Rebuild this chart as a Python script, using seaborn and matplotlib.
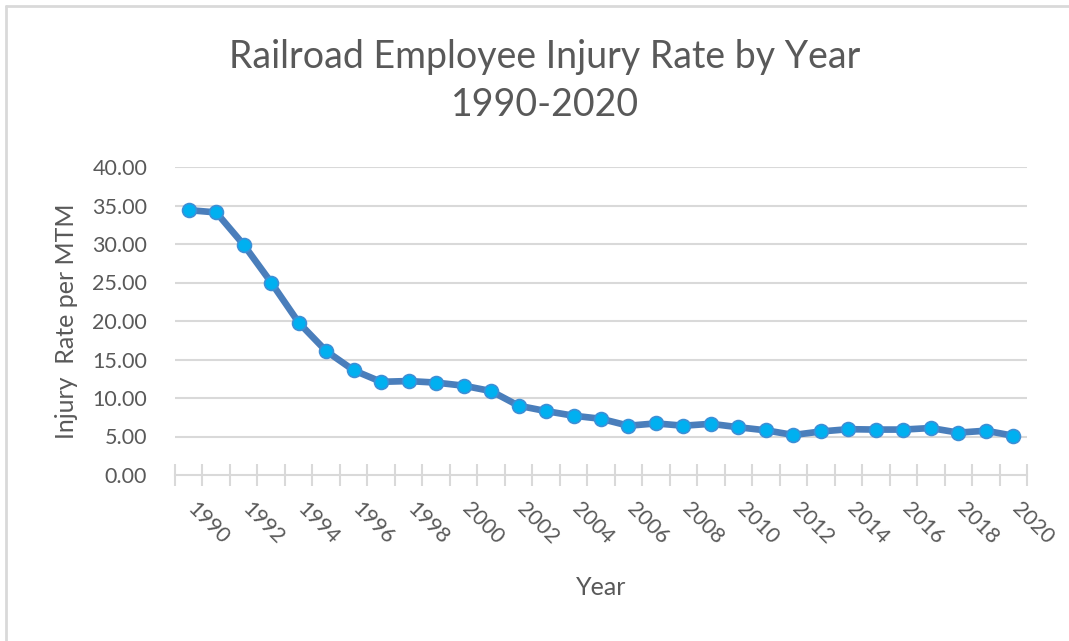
import numpy as np
import pandas as pd
import seaborn as sns
import matplotlib.pyplot as plt
import matplotlib.transforms as mtransforms
from matplotlib.lines import Line2D

# valeurs
years = list(range(1990, 2021))
injury_rate = [34.4, 34.1, 29.9, 25.0, 19.8, 16.1, 13.6, 12.1, 12.2, 12.0,
               11.6, 10.9, 9.0, 8.3, 7.7, 7.3, 6.4, 6.7, 6.4, 6.65,
               6.2, 5.8, 5.2, 5.65, 5.95, 5.9, 5.9, 6.1, 5.5, 5.75, 5.1]
y_ticks = [0, 5, 10, 15, 20, 25, 30, 35, 40]

df = pd.DataFrame({'pos': np.arange(len(years)), 'rate': injury_rate})

sns.set_theme(style='white')
plt.rcParams['font.family'] = ['Lato', 'DejaVu Sans']
txt = '#595959'
grid = '#d9d9d9'

fig = plt.figure(figsize=(10.69, 6.41), dpi=100)
ax = fig.add_axes([175 / 1069, 1 - 475 / 641, 852 / 1069, 308 / 641])

for v in y_ticks[1:]:
    ax.axhline(v, color=grid, lw=1.5, zorder=0)

sns.lineplot(data=df, x='pos', y='rate', ax=ax, color='#4a7ebb', lw=4.8,
             marker='o', markersize=10, markerfacecolor='#00b0f0',
             markeredgecolor='#3d8fd6', markeredgewidth=1.2, zorder=3)

ax.set_xlim(-0.5, len(years) - 0.5)
ax.set_ylim(0, 40)
for s in ['top', 'right', 'left']:
    ax.spines[s].set_visible(False)
ax.spines['bottom'].set_color(grid)
ax.spines['bottom'].set_linewidth(1.5)

ax.set_yticks(y_ticks)
ax.set_yticklabels([f'{v:.2f}' for v in y_ticks])
ax.tick_params(axis='y', length=0, pad=20, labelsize=15.5, labelcolor=txt)

ax.set_xticks(np.arange(0, len(years), 2))
ax.set_xticklabels([str(y) for y in years[::2]], rotation=-45,
                   ha='left', va='top', rotation_mode='default')
ax.set_xticks(np.arange(-0.5, len(years)), minor=True)
ax.tick_params(axis='x', which='major', length=0, pad=17, labelsize=15.5, labelcolor=txt)
ax.tick_params(axis='x', which='minor', bottom=True, length=16, width=1.5,
               direction='inout', color=grid)
# décalage léger des années vers la gauche
shift = mtransforms.ScaledTranslation(-5 / 100, 0, fig.dpi_scale_trans)
for lbl in ax.get_xticklabels():
    lbl.set_transform(lbl.get_transform() + shift)

ax.set_xlabel('Year', fontsize=18, color=txt)
ax.set_ylabel('Injury  Rate per MTM', fontsize=18, color=txt)
ax.yaxis.set_label_coords(-(175 - 78) / 852, 0.5)
ax.xaxis.set_label_coords(0.5, -(576 - 475) / 308)

fig.text(545 / 1069, 1 - 57 / 641, 'Railroad Employee Injury Rate by Year',
         ha='center', va='center', fontsize=27, color=txt)
fig.text(545 / 1069, 1 - 105 / 641, '1990-2020',
         ha='center', va='center', fontsize=27, color=txt)

# cadre de l'image
fig.add_artist(Line2D([6 / 1069, 6 / 1069], [0, 1 - 6 / 641], transform=fig.transFigure,
                      color=grid, lw=2))
fig.add_artist(Line2D([6 / 1069, 1], [1 - 6 / 641, 1 - 6 / 641], transform=fig.transFigure,
                      color=grid, lw=2))

plt.savefig('out.png', dpi=100)
